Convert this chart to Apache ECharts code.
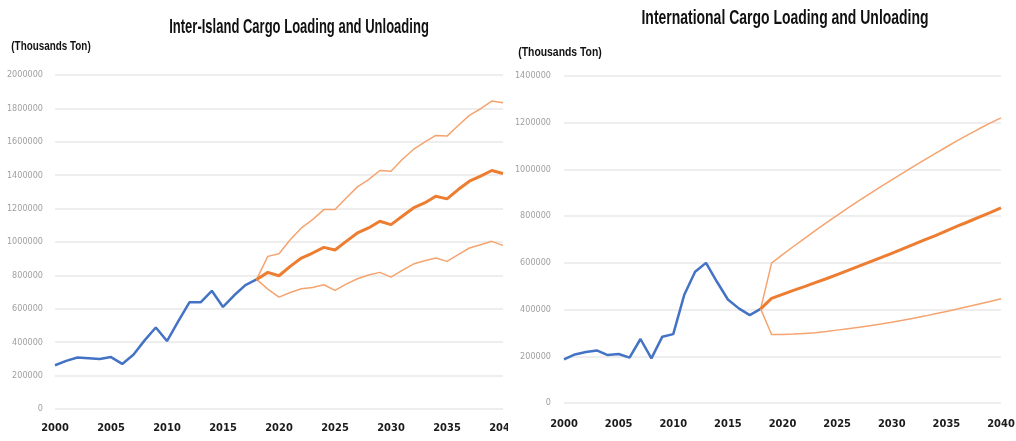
<!DOCTYPE html>
<html>
<head>
<meta charset="utf-8">
<script src="https://cdn.jsdelivr.net/npm/echarts@6/dist/echarts.min.js"></script>
<style>
html, body { margin: 0; padding: 0; background: #fff; }
.wrap { position: relative; width: 1016px; height: 441px; }
#left { position: absolute; left: 0; top: 0; width: 508px; height: 441px; }
#right { position: absolute; left: 508px; top: 0; width: 508px; height: 441px; }
</style>
</head>
<body>
<div class="wrap">
  <div id="left"></div>
  <div id="right"></div>
</div>
<script>
const years = []
for (let y = 2000; y <= 2040; y++) years.push(String(y))

// Inter-Island (thousand ton), actual 2000-2018
const interActual = [262000, 288000, 308000, 304000, 300000, 311000, 270000, 325000, 411000, 488000, 407000, 524000, 639000, 639000, 708000, 611000, 681000, 742000, 776000]
// forecast 2018-2040
const interBase = [776000, 818000, 798000, 854000, 904000, 934000, 968000, 952000, 1004000, 1054000, 1084000, 1124000, 1104000, 1154000, 1204000, 1234000, 1274000, 1258000, 1314000, 1364000, 1394000, 1428000, 1410000]
const interHigh = [776000, 914000, 930000, 1014000, 1084000, 1134000, 1194000, 1194000, 1264000, 1330000, 1374000, 1428000, 1424000, 1494000, 1554000, 1598000, 1638000, 1634000, 1698000, 1758000, 1798000, 1844000, 1834000]
const interLow = [776000, 718000, 670000, 698000, 720000, 728000, 744000, 710000, 748000, 780000, 802000, 818000, 790000, 830000, 868000, 888000, 904000, 884000, 924000, 964000, 984000, 1004000, 980000]

// International (thousand ton), actual 2000-2018
const intlActual = [187000, 208000, 218000, 225000, 205000, 210000, 194000, 274000, 191000, 284000, 295000, 462000, 562000, 600000, 519000, 443000, 405000, 376000, 403000]
// forecast 2018-2040
const intlBase = [403000, 448000, 465000, 482000, 498000, 515000, 532000, 550000, 568000, 586000, 604000, 622000, 641000, 660000, 679000, 698000, 717000, 737000, 757000, 776000, 796000, 815000, 835000]
const intlHigh = [403000, 599000, 635000, 670000, 704000, 738000, 771000, 803000, 835000, 866000, 896000, 926000, 955000, 984000, 1013000, 1041000, 1069000, 1096000, 1123000, 1149000, 1174000, 1198000, 1221000]
const intlLow = [403000, 293000, 293000, 295000, 298000, 301000, 306000, 312000, 318000, 324000, 331000, 338000, 346000, 354000, 363000, 372000, 382000, 392000, 402000, 413000, 424000, 435000, 446000]

const condensed = "'DejaVu Sans Condensed', 'Liberation Sans', sans-serif"

const padFront = (arr) => new Array(years.length - arr.length).fill(null).concat(arr)

// the source image is squeezed sideways, so titles are drawn narrow
const narrowText = (text, x, y, size, sx) => ({
  type: 'text',
  x: x,
  y: y,
  scaleX: sx,
  style: {
    text: text,
    x: 0,
    y: 0,
    align: 'center',
    verticalAlign: 'middle',
    font: 'bold ' + size + 'px "Liberation Sans", Arial, sans-serif',
    fill: '#111'
  }
})

const buildOption = (cfg) => ({
  animation: false,
  graphic: [
    narrowText(cfg.title, cfg.titleX, cfg.titleY, 21, cfg.titleScale),
    narrowText('(Thousands Ton)', cfg.unitX, cfg.unitY, 13, cfg.unitScale)
  ],
  grid: Object.assign({ outerBoundsMode: 'none' }, cfg.grid),
  xAxis: {
    type: 'category',
    data: years,
    boundaryGap: false,
    axisLine: { show: false },
    axisTick: { show: false },
    axisLabel: {
      interval: 4,
      margin: cfg.xMargin,
      fontFamily: condensed,
      fontSize: 11,
      fontWeight: 'bold',
      color: '#1a1a1a'
    }
  },
  yAxis: {
    type: 'value',
    min: 0,
    max: cfg.yMax,
    interval: 200000,
    axisLine: { show: false },
    axisTick: { show: false },
    axisLabel: {
      margin: cfg.yMargin,
      fontFamily: condensed,
      fontSize: 9,
      color: '#a0a0a0',
      formatter: (v) => String(v)
    },
    splitLine: { lineStyle: { color: '#e8e8e8', width: 1.5 } }
  },
  series: [
    {
      type: 'line',
      data: cfg.actual,
      symbol: 'none',
      lineStyle: { color: '#4472c4', width: 2.5 }
    },
    {
      type: 'line',
      data: padFront(cfg.high),
      symbol: 'none',
      lineStyle: { color: '#f5a46f', width: 1.5 }
    },
    {
      type: 'line',
      data: padFront(cfg.low),
      symbol: 'none',
      lineStyle: { color: '#f5a46f', width: 1.5 }
    },
    {
      type: 'line',
      data: padFront(cfg.base),
      symbol: 'none',
      lineStyle: { color: '#ed7d31', width: 3 }
    }
  ]
})

const leftChart = echarts.init(document.getElementById('left'))
leftChart.setOption(buildOption({
  title: 'Inter-Island Cargo Loading and Unloading',
  titleX: 299, titleY: 27, titleScale: 0.62,
  unitX: 51, unitY: 46, unitScale: 0.76,
  grid: { left: 55, right: 5, top: 75, bottom: 32 },
  xMargin: 14, yMargin: 12,
  yMax: 2000000,
  actual: interActual, base: interBase, high: interHigh, low: interLow
}))

const rightChart = echarts.init(document.getElementById('right'))
rightChart.setOption(buildOption({
  title: 'International Cargo Loading and Unloading',
  titleX: 277, titleY: 18, titleScale: 0.665,
  unitX: 52, unitY: 52, unitScale: 0.8,
  grid: { left: 56, right: 15, top: 76, bottom: 38 },
  xMargin: 16, yMargin: 13,
  yMax: 1400000,
  actual: intlActual, base: intlBase, high: intlHigh, low: intlLow
}))
</script>
</body>
</html>
